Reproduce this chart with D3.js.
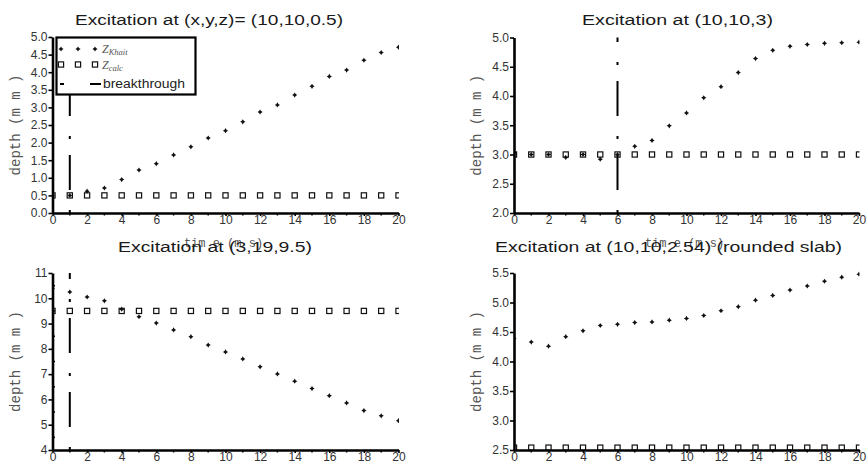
<!DOCTYPE html>
<html>
<head>
<meta charset="utf-8">
<script src="https://cdn.jsdelivr.net/npm/d3@7"></script>
<style>
  body { margin: 0; background: #fff; }
  text { font-family: "Liberation Sans", Arial, sans-serif; }
</style>
</head>
<body>
<svg id="chart" width="867" height="466"></svg>
<script>
// time axis, ms
const time = [0, 1, 2, 3, 4, 5, 6, 7, 8, 9, 10, 11, 12, 13, 14, 15, 16, 17, 18, 19, 20];
const xTicks = [0, 2, 4, 6, 8, 10, 12, 14, 16, 18, 20];
const xMinor = [1, 3, 5, 7, 9, 11, 13, 15, 17, 19];

// panel 1: (10,10,0.5)
const zKhait1 = [0.50, 0.50, 0.62, 0.71, 0.95, 1.22, 1.40, 1.65, 1.88, 2.13, 2.34, 2.59, 2.87, 3.07, 3.35, 3.60, 3.88, 4.06, 4.34, 4.56, 4.71];
const zCalc1  = [0.5, 0.5, 0.5, 0.5, 0.5, 0.5, 0.5, 0.5, 0.5, 0.5, 0.5, 0.5, 0.5, 0.5, 0.5, 0.5, 0.5, 0.5, 0.5, 0.5, 0.5];
const yTicks1 = [0, 0.5, 1, 1.5, 2, 2.5, 3, 3.5, 4, 4.5, 5];

// panel 2: (10,10,3)
const zKhait2 = [3.02, 3.00, 3.00, 2.95, 3.00, 2.92, 3.00, 3.14, 3.24, 3.49, 3.71, 3.97, 4.16, 4.40, 4.64, 4.78, 4.85, 4.88, 4.90, 4.91, 4.92];
const zCalc2  = [3, 3, 3, 3, 3, 3, 3, 3, 3, 3, 3, 3, 3, 3, 3, 3, 3, 3, 3, 3, 3];
const yTicks2 = [2, 2.5, 3, 3.5, 4, 4.5, 5];

// panel 3: (3,19,9.5)
const zKhait3 = [10.40, 10.25, 10.05, 9.90, 9.57, 9.27, 9.02, 8.75, 8.48, 8.15, 7.88, 7.60, 7.29, 7.01, 6.72, 6.43, 6.15, 5.86, 5.56, 5.35, 5.16];
const zCalc3  = [9.5, 9.5, 9.5, 9.5, 9.5, 9.5, 9.5, 9.5, 9.5, 9.5, 9.5, 9.5, 9.5, 9.5, 9.5, 9.5, 9.5, 9.5, 9.5, 9.5, 9.5];
const yTicks3 = [4, 5, 6, 7, 8, 9, 10, 11];
const yMinor3 = [4.5, 5.5, 6.5, 7.5, 8.5, 9.5, 10.5];

// panel 4: (10,10,2.54) rounded slab
const zKhait4 = [4.385, 4.33, 4.26, 4.42, 4.52, 4.61, 4.63, 4.66, 4.67, 4.70, 4.73, 4.78, 4.86, 4.93, 5.04, 5.12, 5.21, 5.28, 5.36, 5.43, 5.48];
const zCalc4  = [2.54, 2.54, 2.54, 2.54, 2.54, 2.54, 2.54, 2.54, 2.54, 2.54, 2.54, 2.54, 2.54, 2.54, 2.54, 2.54, 2.54, 2.54, 2.54, 2.54, 2.54];
const yTicks4 = [2.5, 3, 3.5, 4, 4.5, 5, 5.5];

const titles = [
  "Excitation at (x,y,z)= (10,10,0.5)",
  "Excitation at (10,10,3)",
  "Excitation at (3,19,9.5)",
  "Excitation at (10,10,2.54) (rounded slab)"
];
const breakthrough = [1, 6, 1, null];

// layout per panel (pixels)
const panels = [
  { x0: 52.5, x1: 398.5, yb: 213, yt: 37,   tx: 75,  tw: 268, ty: 25,  dom: [0, 5],     khait: zKhait1, calc: zCalc1, ticks: yTicks1, fmt: ".1f", minor: [] },
  { x0: 514,  x1: 859,   yb: 213, yt: 37.5, tx: 582, tw: 191, ty: 25,  dom: [2, 5],     khait: zKhait2, calc: zCalc2, ticks: yTicks2, fmt: ".1f", minor: [] },
  { x0: 52.5, x1: 398.5, yb: 450, yt: 273,  tx: 118, tw: 194, ty: 252, dom: [4, 11],    khait: zKhait3, calc: zCalc3, ticks: yTicks3, fmt: "d",   minor: yMinor3 },
  { x0: 514,  x1: 859,   yb: 450, yt: 273,  tx: 495, tw: 347, ty: 252, dom: [2.5, 5.5], khait: zKhait4, calc: zCalc4, ticks: yTicks4, fmt: ".1f", minor: [] }
];

const svg = d3.select("#chart");
const star = "M0,-2.6L1,-1L2.6,0L1,1L0,2.6L-1,1L-2.6,0L-1,-1Z";

panels.forEach(function(p, i) {
  const x = d3.scaleLinear().domain([0, 20]).range([p.x0, p.x1]);
  const y = d3.scaleLinear().domain(p.dom).range([p.yb, p.yt]);
  const g = svg.append("g");

  const clipId = "clip" + i;
  svg.append("clipPath").attr("id", clipId)
    .append("rect")
    .attr("x", p.x0).attr("y", p.yt - 8)
    .attr("width", p.x1 - p.x0 + 0.5).attr("height", p.yb - p.yt + 16);

  const plot = g.append("g").attr("clip-path", `url(#${clipId})`);

  plot.selectAll(".khait")
    .data(time)
    .enter()
    .append("path")
    .attr("d", star)
    .attr("transform", (d, j) => `translate(${x(d)},${y(p.khait[j])})`)
    .attr("fill", "#111");

  plot.selectAll(".calc")
    .data(time)
    .enter()
    .append("rect")
    .attr("x", d => x(d) - 2.6)
    .attr("y", (d, j) => y(p.calc[j]) - 2.6)
    .attr("width", 5.2).attr("height", 5.2)
    .attr("fill", "none")
    .attr("stroke", "#111")
    .attr("stroke-width", 1.2);

  if (breakthrough[i] != null) {
    g.append("line")
      .attr("x1", x(breakthrough[i])).attr("x2", x(breakthrough[i]))
      .attr("y1", p.yb).attr("y2", p.yt)
      .attr("stroke", "#000")
      .attr("stroke-width", 2)
      .attr("stroke-dasharray", "3,20,35,16");
  }

  // axes
  const ax = g.append("g")
    .attr("transform", `translate(0,${p.yb})`)
    .call(d3.axisBottom(x).tickValues(xTicks).tickSize(3).tickSizeOuter(0).tickPadding(-1));
  ax.selectAll(".tick line").attr("stroke-width", 1.6);
  ax.select(".domain").attr("stroke-width", 2.6);
  ax.selectAll("text").attr("font-size", 12).attr("fill", "#333")
    .style("font-family", "Liberation Sans, Arial, sans-serif");
  ax.selectAll(".minor").data(xMinor).enter().append("line")
    .attr("x1", d => x(d)).attr("x2", d => x(d))
    .attr("y1", 0).attr("y2", 2.5)
    .attr("stroke", "#000").attr("stroke-width", 1.5);

  const ay = g.append("g")
    .attr("transform", `translate(${p.x0},0)`)
    .call(d3.axisLeft(y).tickValues(p.ticks).tickSize(4).tickSizeOuter(0).tickPadding(1)
      .tickFormat(d3.format(p.fmt)));
  ay.selectAll(".tick line").attr("stroke-width", 1.6);
  ay.select(".domain").attr("stroke-width", 2.6);
  ay.selectAll("text").attr("font-size", 12).attr("fill", "#333")
    .style("font-family", "Liberation Sans, Arial, sans-serif");
  ay.selectAll(".minor").data(p.minor).enter().append("line")
    .attr("x1", 0).attr("x2", 2.5)
    .attr("y1", d => y(d)).attr("y2", d => y(d))
    .attr("stroke", "#000").attr("stroke-width", 1.5);

  // labels
  g.append("text")
    .attr("x", p.tx).attr("y", p.ty)
    .attr("font-size", 15.5)
    .attr("fill", "#1a1a1a")
    .attr("textLength", p.tw)
    .attr("lengthAdjust", "spacingAndGlyphs")
    .text(titles[i]);

  g.append("text")
    .attr("transform", `translate(${p.x0 - 33},${(p.yb + p.yt) / 2}) rotate(-90)`)
    .attr("text-anchor", "middle")
    .attr("font-size", 14)
    .attr("fill", "#555")
    .style("font-family", "Liberation Mono, monospace")
    .text("depth (m m )");

  g.append("text")
    .attr("x", (p.x0 + p.x1) / 2 - 2).attr("y", p.yb + 34)
    .attr("text-anchor", "middle")
    .attr("font-size", 12)
    .attr("fill", "#555")
    .style("font-family", "Liberation Mono, monospace")
    .text("tim e (m s)");
});

// legend in first panel
const leg = svg.append("g");
leg.append("rect")
  .attr("x", 56.5).attr("y", 37.5).attr("width", 139).attr("height", 57)
  .attr("fill", "#fff").attr("stroke", "#000").attr("stroke-width", 2.2);

const legX = [61, 78, 95];
leg.selectAll(".ld").data(legX).enter().append("path")
  .attr("d", star).attr("transform", d => `translate(${d},49)`).attr("fill", "#111");
leg.selectAll(".ls").data(legX).enter().append("rect")
  .attr("x", d => d - 2.6).attr("y", 64.5 - 2.6).attr("width", 5.2).attr("height", 5.2)
  .attr("fill", "none").attr("stroke", "#111").attr("stroke-width", 1.2);
leg.append("line")
  .attr("x1", 60).attr("x2", 101).attr("y1", 84).attr("y2", 84)
  .attr("stroke", "#000").attr("stroke-width", 2.2)
  .attr("stroke-dasharray", "4,26,11,40");

function legSym(yPos, sub) {
  const t = leg.append("text").attr("x", 102).attr("y", yPos)
    .attr("fill", "#555").style("font-family", "Liberation Serif, serif")
    .style("font-style", "italic");
  t.append("tspan").attr("font-size", 12).text("Z");
  t.append("tspan").attr("font-size", 8.5).attr("dy", 2).text(sub);
}
legSym(53, "Khait");
legSym(68.5, "calc");

leg.append("text")
  .attr("x", 103).attr("y", 88)
  .attr("font-size", 12)
  .attr("fill", "#222")
  .attr("textLength", 82)
  .attr("lengthAdjust", "spacingAndGlyphs")
  .text("breakthrough");
</script>
</body>
</html>
